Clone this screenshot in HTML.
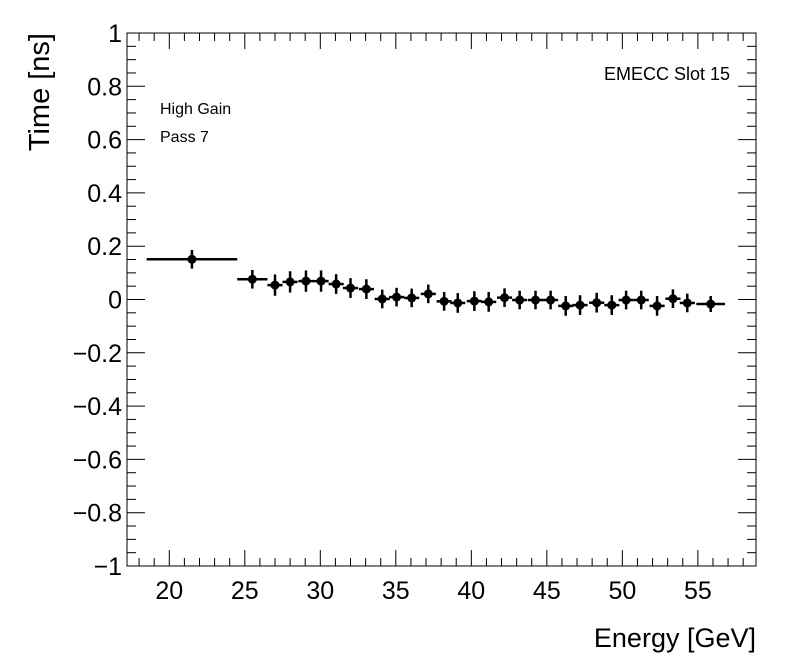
<!DOCTYPE html>
<html><head><meta charset="utf-8"><style>
body{margin:0;background:#fff;}
svg{display:block;font-family:"Liberation Sans",Arial,sans-serif;}
</style></head><body>
<svg id="c" width="796" height="672"></svg>
<script>
const xCenters=[21.5,25.5,27.0,28.0,29.05,30.05,31.05,32.0,33.05,34.1,35.05,36.05,37.15,38.2,39.1,40.2,41.15,42.2,43.2,44.25,45.25,46.25,47.2,48.3,49.3,50.25,51.25,52.3,53.35,54.3,55.85];
const xHalf=[3.0,1.0,0.5,0.5,0.5,0.5,0.5,0.5,0.5,0.5,0.5,0.5,0.5,0.5,0.5,0.5,0.5,0.5,0.5,0.5,0.5,0.5,0.5,0.5,0.5,0.5,0.5,0.5,0.5,0.5,0.95];
const yValues=[0.151,0.076,0.054,0.066,0.069,0.069,0.058,0.043,0.039,0.002,0.009,0.006,0.021,-0.007,-0.013,-0.006,-0.009,0.007,-0.002,-0.002,-0.002,-0.024,-0.021,-0.012,-0.021,-0.002,-0.002,-0.024,0.003,-0.013,-0.017];
const yErr=[0.035,0.035,0.04,0.04,0.04,0.04,0.037,0.037,0.037,0.035,0.035,0.035,0.035,0.035,0.037,0.037,0.037,0.035,0.035,0.035,0.035,0.037,0.037,0.037,0.037,0.035,0.035,0.037,0.035,0.035,0.03];
const xTicks=[20,25,30,35,40,45,50,55];
const yTicks=[-1,-0.8,-0.6,-0.4,-0.2,0,0.2,0.4,0.6,0.8,1];
const L=127,R=756,T=33,B=566,XMIN=17.2,XMAX=58.85,YMIN=-1,YMAX=1;
const sx=v=>L+(v-XMIN)/(XMAX-XMIN)*(R-L);
const sy=v=>B-(v-YMIN)/(YMAX-YMIN)*(B-T);
const svg=document.getElementById('c');const NS='http://www.w3.org/2000/svg';
function mk(t,a,p){const e=document.createElementNS(NS,t);for(const k in a)e.setAttribute(k,a[k]);(p||svg).appendChild(e);return e;}
const frame=mk('rect',{x:L,y:T,width:R-L,height:B-T,fill:'none',stroke:'#000','stroke-width':1});


const ax=mk('g',{stroke:'#000','stroke-width':1});


for(let v=18;v<=58;v++){const x=sx(v);const len=(v%5===0)?16:8;
 mk('line',{x1:x,y1:B,x2:x,y2:B-len},ax);mk('line',{x1:x,y1:T,x2:x,y2:T+len},ax);}
for(let i=-20;i<=20;i++){const v=i*0.05;const y=sy(v);const len=(i%4===0)?18:9;
 mk('line',{x1:L,y1:y,x2:L+len,y2:y},ax);mk('line',{x1:R,y1:y,x2:R-len,y2:y},ax);}
xTicks.forEach(v=>{const t=mk('text',{x:sx(v),y:B+33,'font-size':25,'text-anchor':'middle'});t.textContent=v;
 
 });
yTicks.forEach(v=>{const t=mk('text',{x:L-5,y:sy(v)+9,'font-size':25,'text-anchor':'end'});
 t.textContent=(v<0?'\u2212':'')+(Math.abs(v)===1||v===0?Math.abs(v):Math.abs(v).toFixed(1));
 
 });
const pts=mk('g',{stroke:'#000','stroke-width':2.5});


xCenters.forEach((xc,i)=>{const g=mk('g',{},pts);
 
 
 const x=sx(xc),y=sy(yValues[i]);
 mk('line',{x1:sx(xc-xHalf[i]),y1:y,x2:sx(xc+xHalf[i]),y2:y},g);
 mk('line',{x1:x,y1:sy(yValues[i]+yErr[i]),x2:x,y2:sy(yValues[i]-yErr[i])},g);
 mk('circle',{cx:x,cy:y,r:4.5,fill:'#000',stroke:'none'},g);});
</script>
<svg width="796" height="672" style="position:absolute;left:0;top:0">
<text x="756" y="647" font-size="27" text-anchor="end" font-family="Liberation Sans,sans-serif">Energy [GeV]</text>
<text transform="translate(49,33) rotate(-90)" font-size="29" text-anchor="end" font-family="Liberation Sans,sans-serif">Time [ns]</text>
<text x="730" y="80" font-size="18" text-anchor="end" font-family="Liberation Sans,sans-serif">EMECC Slot 15</text>
<text x="160" y="114" font-size="16" font-family="Liberation Sans,sans-serif">High Gain</text>
<text x="160" y="142" font-size="16" font-family="Liberation Sans,sans-serif">Pass 7</text>
</svg>
</body></html>
